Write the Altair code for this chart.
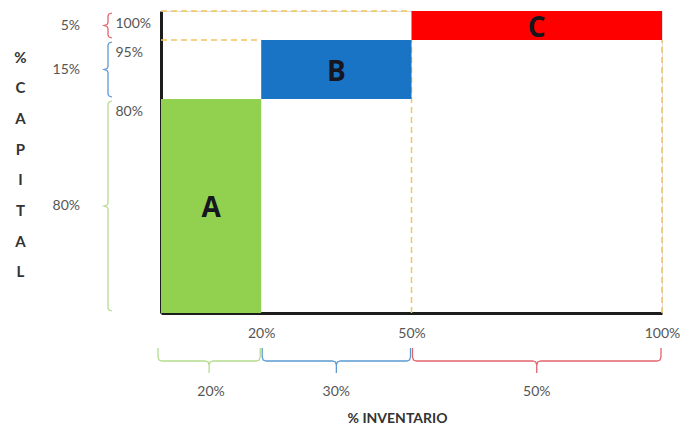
import altair as alt
import pandas as pd

# ---- data ----
classes = ["A", "B", "C"]
inv_share = [20, 30, 50]          # % inventario per class
cap_share = [80, 15, 5]           # % capital per class
inv_ticks = [20, 50, 100]         # cumulative % inventario
cap_ticks = [80, 95, 100]         # cumulative % capital
fills = ["#92D050", "#1A74C6", "#FF0000"]
brace_cols = ["#B5DB8F", "#5B9BD1", "#E2646E"]
y_title = ["%", "C", "A", "P", "I", "T", "A", "L"]

# ---- geometry (plot area in px) ----
W, H = 501, 302
YD = [0, 80, 95, 100]
YR = [302, 88, 29, 0]


def px2x(p):
    return p / W * 100.0


def px2y(p):
    n = len(YD) - 1
    for i in range(n):
        if YR[i + 1] <= p <= YR[i]:
            break
    else:
        i = 0 if p > YR[0] else n - 1
    return YD[i] + (p - YR[i]) * (YD[i + 1] - YD[i]) / (YR[i + 1] - YR[i])


def y2px(v):
    n = len(YD) - 1
    for i in range(n):
        if YD[i] <= v <= YD[i + 1]:
            break
    return YR[i] + (v - YD[i]) * (YR[i + 1] - YR[i]) / (YD[i + 1] - YD[i])


# cumulative bounds
x0s, x1s, y0s, y1s = [], [], [], []
cx, cy = 0, 0
for s_i, s_c in zip(inv_share, cap_share):
    x0s.append(cx); x1s.append(cx + s_i)
    y0s.append(cy); y1s.append(cy + s_c)
    cx += s_i; cy += s_c

rects = pd.DataFrame({"cls": classes, "x0": x0s, "x1": x1s, "y0": y0s, "y1": y1s,
                      "fill": fills,
                      "xm": [(a + b) / 2 for a, b in zip(x0s, x1s)],
                      "ym": [(a + b) / 2 for a, b in zip(y0s, y1s)]})

# dashed guide lines
guides = pd.DataFrame({
    "x": [0, 0, inv_ticks[1], inv_ticks[2]],
    "x2": [inv_ticks[1], inv_ticks[0], inv_ticks[1], inv_ticks[2]],
    "y": [cap_ticks[2], cap_ticks[1], 0, 0],
    "y2": [cap_ticks[2], cap_ticks[1], cap_ticks[1], cap_ticks[1]],
})

# braces
rows = []
XL, HK, TK, R = -53, 4, -4, 3
for k, (lo, hi, col) in enumerate(zip(y0s, y1s, brace_cols)):
    t = y2px(hi) + 2
    b = y2px(lo) - 2
    m = (t + b) / 2
    pts = [(XL + HK, t), (XL + 1, t + 1), (XL, t + R), (XL, m - R), (XL - 1, m - 1),
           (XL + TK, m), (XL - 1, m + 1), (XL, m + R), (XL, b - R), (XL + 1, b - 1), (XL + HK, b)]
    for j, (px, py) in enumerate(pts):
        rows.append({"g": f"v{k}", "o": j, "c": col, "x": px2x(px), "y": px2y(py)})

TOP, LINE, BOT, R2 = 337, 350, 362, 4
for k, (lo, hi, col) in enumerate(zip(x0s, x1s, brace_cols)):
    a = lo / 100 * W - 2 + (0 if k else -1)
    b = hi / 100 * W - 1
    if k:
        a += 3
    m = (a + b) / 2
    pts = [(a, TOP), (a, LINE - R2), (a + 1, LINE - 1), (a + R2, LINE), (m - R2, LINE),
           (m - 1, LINE + 1), (m, LINE + R2), (m, BOT), (m, LINE + R2), (m + 1, LINE + 1),
           (m + R2, LINE), (b - R2, LINE), (b - 1, LINE - 1), (b, LINE - R2), (b, TOP)]
    for j, (px, py) in enumerate(pts):
        rows.append({"g": f"h{k}", "o": j, "c": col, "x": px2x(px), "y": px2y(py)})
braces = pd.DataFrame(rows)

left_lbl = pd.DataFrame({"t": [f"{v}%" for v in cap_share], "y": rects["ym"], "x": px2x(-81)})
bot_lbl = pd.DataFrame({"t": [f"{v}%" for v in inv_share], "x": rects["xm"], "y": px2y(381)})

FONT = "Lato"
xs = alt.Scale(domain=[0, 100], nice=False, zero=False)
ys = alt.Scale(domain=YD, range=YR, nice=False, zero=False)

x_axis = alt.Axis(values=inv_ticks, labelExpr="datum.value + '%'", grid=False, ticks=False,
                  tickSize=0, labelPadding=13, labelFlush=False, labelOverlap=False,
                  domainWidth=3, domainColor="#1c1c1c", labelColor="#555555",
                  labelFontSize=14, labelFont=FONT, title="% INVENTARIO",
                  titleFont=FONT, titleFontSize=14, titleFontWeight="bold",
                  titleColor="#333333", titleY=105, titleX=236, titleBaseline="middle")
y_axis = alt.Axis(values=cap_ticks, labelExpr="datum.value + '%'", grid=False, ticks=False,
                  tickSize=0, labelPadding=46, labelAlign="left", labelOffset=12,
                  labelBaseline="middle", labelFlush=False, labelOverlap=False,
                  domainWidth=3, domainColor="#1c1c1c", labelColor="#555555",
                  labelFontSize=14, labelFont=FONT, title=y_title, titleAngle=0,
                  titleFont=FONT, titleFontSize=15, titleFontWeight="bold",
                  titleColor="#333333", titleLineHeight=30.7, titleX=-141, titleY=46,
                  titleAlign="center", titleBaseline="middle")

base = alt.Chart(rects)

guide_layer = alt.Chart(guides).mark_rule(color="#F3C55C", strokeDash=[6, 4], strokeWidth=1.5).encode(
    x=alt.X("x:Q", scale=xs, axis=x_axis), x2="x2:Q",
    y=alt.Y("y:Q", scale=ys, axis=y_axis), y2="y2:Q")

rect_layer = base.mark_rect().encode(
    x=alt.X("x0:Q", scale=xs), x2="x1:Q",
    y=alt.Y("y0:Q", scale=ys), y2="y1:Q",
    color=alt.Color("fill:N", scale=None))

letter_layer = base.mark_text(font="Open Sans", fontSize=28, fontWeight="bold", color="#16161e",
                              baseline="middle", dy=3).encode(
    x=alt.X("xm:Q", scale=xs), y=alt.Y("ym:Q", scale=ys), text="cls:N")

brace_layer = alt.Chart(braces).mark_line(strokeWidth=1.3, clip=False).encode(
    x=alt.X("x:Q", scale=xs), y=alt.Y("y:Q", scale=ys),
    order="o:Q", detail="g:N", color=alt.Color("c:N", scale=None))

left_layer = alt.Chart(left_lbl).mark_text(font=FONT, fontSize=14, color="#555555", align="right",
                                           baseline="middle").encode(
    x=alt.X("x:Q", scale=xs), y=alt.Y("y:Q", scale=ys), text="t:N")

bot_layer = alt.Chart(bot_lbl).mark_text(font=FONT, fontSize=14, color="#555555", align="center",
                                         baseline="middle").encode(
    x=alt.X("x:Q", scale=xs), y=alt.Y("y:Q", scale=ys), text="t:N")

chart = alt.layer(guide_layer, rect_layer, letter_layer, brace_layer, left_layer, bot_layer).properties(
    width=W, height=H,
    autosize=alt.AutoSizeParams(type="none"),
    padding={"left": 153, "top": 3, "right": 27, "bottom": 112},
).configure_view(stroke=None).configure(background="white")

chart.save("out.html", embed_options={"renderer": "svg", "actions": False})
